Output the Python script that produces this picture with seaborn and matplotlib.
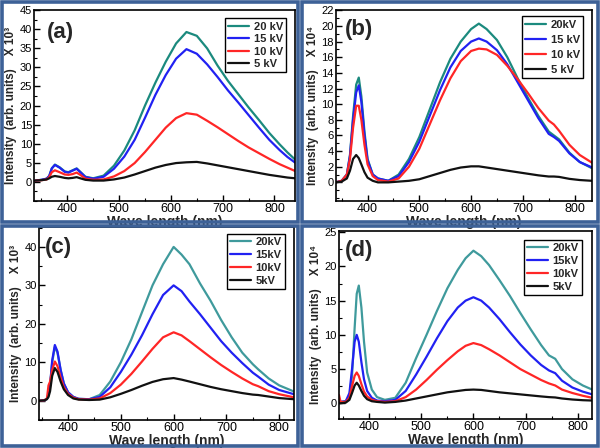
import pandas as pd
import matplotlib.pyplot as plt
import seaborn as sns
from matplotlib.patches import Rectangle
from matplotlib.ticker import MultipleLocator

# ---- data (intensity in units of the axis multiplier) ----
wl_a = [338, 350, 360, 365, 370, 376, 385, 395, 402, 410, 418, 425, 435, 450, 470, 490, 510,
        530, 550, 570, 590, 610, 630, 650, 670, 690, 710, 730, 750, 770, 790, 810, 825, 840]
a_20kv = [0.3, 0.5, 0.8, 1.5, 3.5, 4.5, 3.8, 2.7, 2.5, 3.0, 3.5, 2.6, 1.3, 0.9, 1.6, 4.2, 8.2,
          13.5, 20.0, 26.0, 31.5, 36.3, 39.3, 38.3, 35.0, 30.5, 26.5, 23.0, 19.5, 16.2, 12.8, 9.8, 7.7, 5.8]
a_15kv = [0.3, 0.5, 0.8, 1.5, 3.5, 4.4, 3.7, 2.6, 2.4, 2.9, 3.4, 2.5, 1.2, 0.8, 1.3, 3.4, 6.6,
          11.0, 16.8, 22.8, 28.0, 32.3, 34.8, 33.6, 30.8, 27.5, 24.0, 20.8, 17.5, 14.2, 11.0, 8.3, 6.5, 5.0]
a_10kv = [0.3, 0.4, 0.6, 1.2, 2.5, 3.0, 2.5, 1.9, 1.8, 2.0, 2.4, 1.8, 0.8, 0.5, 0.6, 1.4, 2.8,
          4.9, 7.8, 11.0, 14.2, 16.7, 18.0, 17.6, 16.0, 14.3, 12.5, 10.7, 9.0, 7.5, 6.0, 4.6, 3.7, 2.8]
a_5kv = [0.3, 0.4, 0.6, 0.9, 1.3, 1.5, 1.3, 1.0, 0.9, 1.0, 1.2, 0.9, 0.5, 0.3, 0.3, 0.6, 1.1,
         1.9, 2.8, 3.7, 4.4, 4.9, 5.1, 5.2, 4.8, 4.3, 3.8, 3.3, 2.8, 2.3, 1.8, 1.4, 1.1, 0.9]

wl_b = [338, 350, 360, 366, 372, 378, 383, 388, 394, 400, 410, 420, 440, 460, 480, 500, 520,
        540, 560, 580, 600, 615, 630, 650, 670, 690, 710, 730, 750, 760, 770, 790, 810, 834]
b_20kv = [0.0, 0.2, 1.0, 3.5, 8.5, 12.5, 13.4, 11.0, 6.5, 3.0, 1.0, 0.5, 0.2, 1.0, 3.0, 5.8, 9.3,
          12.8, 15.8, 18.0, 19.6, 20.3, 19.6, 18.2, 16.0, 13.3, 10.8, 8.5, 6.5, 6.0, 5.5, 3.8, 2.6, 1.8]
b_15kv = [0.0, 0.2, 1.0, 3.4, 8.0, 11.5, 12.4, 10.3, 6.0, 2.8, 1.0, 0.5, 0.2, 0.8, 2.6, 5.2, 8.5,
          11.8, 14.7, 16.8, 18.0, 18.4, 18.0, 16.9, 15.1, 12.8, 10.5, 8.2, 6.2, 5.8, 5.3, 3.7, 2.6, 1.9]
b_10kv = [0.0, 0.2, 1.0, 3.0, 7.0, 9.8, 9.8, 8.0, 4.8, 2.3, 0.8, 0.3, 0.1, 0.5, 2.0, 4.3, 7.4,
          10.5, 13.3, 15.5, 16.8, 17.1, 17.0, 16.3, 14.9, 13.2, 11.4, 9.5, 7.9, 7.4, 6.6, 4.8, 3.5, 2.5]
b_5kv = [0.0, 0.1, 0.5, 1.5, 3.0, 3.5, 3.1, 2.3, 1.3, 0.6, 0.2, 0.0, 0.0, 0.1, 0.2, 0.4, 0.8,
         1.2, 1.6, 1.9, 2.05, 2.05, 1.9, 1.7, 1.5, 1.3, 1.1, 0.9, 0.75, 0.75, 0.7, 0.45, 0.3, 0.2]

wl_c = [345, 355, 360, 363, 366, 370, 375, 380, 386, 392, 400, 410, 420, 440, 460, 480, 500,
        520, 540, 560, 580, 600, 615, 630, 650, 670, 690, 710, 730, 750, 760, 780, 800, 828]
c_20kv = [0.0, 0.1, 0.5, 1.5, 4.0, 10.0, 14.0, 12.5, 8.0, 4.5, 2.2, 1.0, 0.5, 0.4, 1.5, 5.0, 10.0,
          16.0, 23.0, 30.0, 35.5, 40.0, 38.0, 35.5, 30.5, 26.0, 21.0, 16.5, 12.5, 9.5, 8.2, 5.8, 4.0, 2.4]
c_15kv = [0.0, 0.1, 0.5, 1.5, 4.0, 10.5, 14.5, 12.8, 8.0, 4.5, 2.2, 1.0, 0.5, 0.4, 1.0, 3.5, 7.5,
          12.0, 17.0, 22.5, 27.5, 30.0, 28.5, 25.8, 22.5, 19.0, 15.5, 12.5, 9.8, 7.3, 6.3, 4.2, 2.8, 1.7]
c_10kv = [0.0, 0.1, 0.6, 4.0, 5.0, 8.0, 10.2, 9.0, 6.0, 3.5, 1.8, 0.8, 0.4, 0.3, 0.6, 2.0, 4.2,
          7.0, 10.2, 13.5, 16.5, 17.8, 17.0, 15.5, 13.4, 11.3, 9.3, 7.5, 5.8, 4.3, 3.8, 2.5, 1.7, 0.9]
c_5kv = [0.0, 0.1, 0.4, 1.0, 2.5, 6.5, 8.5, 7.5, 5.0, 3.0, 1.5, 0.6, 0.3, 0.2, 0.3, 0.9, 1.8,
         2.8, 3.9, 4.9, 5.6, 5.9, 5.5, 5.0, 4.3, 3.6, 3.0, 2.5, 2.0, 1.6, 1.5, 1.1, 0.7, 0.4]

wl_d = [342, 345, 355, 362, 367, 372, 376, 380, 385, 390, 396, 405, 415, 430, 450, 470, 490, 510,
        530, 550, 570, 585, 600, 615, 630, 650, 670, 690, 710, 730, 745, 757, 770, 790, 810, 828]
d_20kv = [0.2, 0.2, 0.3, 1.0, 4.0, 11.0, 16.0, 17.2, 14.0, 9.0, 4.5, 2.0, 0.9, 0.5, 0.8, 3.0, 6.6, 10.0,
          13.5, 16.8, 19.5, 21.2, 22.3, 21.5, 20.2, 18.0, 15.7, 13.2, 10.8, 8.5, 7.0, 6.5, 5.0, 3.5, 2.6, 2.0]
d_15kv = [0.2, 0.2, 0.3, 1.5, 5.0, 9.0, 10.0, 9.0, 6.0, 3.5, 1.8, 0.8, 0.4, 0.3, 0.5, 1.8, 4.2, 6.8,
          9.5, 12.0, 14.0, 15.0, 15.5, 15.0, 14.0, 12.3, 10.4, 8.6, 7.0, 5.6, 4.8, 4.4, 3.3, 2.3, 1.7, 1.3]
d_10kv = [1.2, 0.2, 0.2, 0.8, 2.5, 4.0, 4.5, 4.0, 2.8, 1.7, 1.0, 0.5, 0.3, 0.2, 0.3, 0.9, 2.0, 3.4,
          4.9, 6.3, 7.6, 8.4, 8.8, 8.5, 7.9, 7.0, 6.0, 5.0, 4.2, 3.4, 2.9, 2.6, 2.0, 1.5, 1.1, 0.8]
d_5kv = [0.0, 0.0, 0.1, 0.5, 1.5, 2.6, 3.0, 2.6, 1.8, 1.1, 0.6, 0.3, 0.2, 0.1, 0.2, 0.4, 0.7, 1.0,
         1.3, 1.6, 1.8, 1.95, 2.0, 1.95, 1.8, 1.6, 1.45, 1.3, 1.15, 1.0, 0.9, 0.85, 0.7, 0.55, 0.45, 0.4]

labels_a = ["20 kV", "15 kV", "10 kV", "5 kV"]
labels_b = ["20kV", "15 kV", "10 kV", "5 kV"]
labels_cd = ["20kV", "15kV", "10kV", "5kV"]

sns.set_style("ticks")
plt.rcParams["font.family"] = ["Liberation Sans", "DejaVu Sans"]

fig = plt.figure(figsize=(6, 4.48), dpi=100)

# blue panel frames
frame_col = "#3d6197"
for x0, y0 in [(0, 0.5), (0.5, 0.5), (0, 0), (0.5, 0)]:
    fig.add_artist(Rectangle((x0 + 0.003, y0 + 0.004), 0.494, 0.492, transform=fig.transFigure,
                             fill=False, ec=frame_col, lw=2.6))

panels = [
    dict(pos=[0.057, 0.551, 0.435, 0.426], wl=wl_a, ys=[a_20kv, a_15kv, a_10kv, a_5kv], labels=labels_a,
         teal="#1b8a7e", xlim=(336, 840), ylim=(-5.1, 45), ymaj=5, ymin=2.5, ytop=45,
         tag="(a)", tagpos=(0.05, 0.885), exp="³", legpad=(0.966, 0.958), lspace=0.22),
    dict(pos=[0.560, 0.551, 0.427, 0.426], wl=wl_b, ys=[b_20kv, b_15kv, b_10kv, b_5kv], labels=labels_b,
         teal="#1b8a7e", xlim=(339, 834), ylim=(-2.4, 22), ymaj=2, ymin=1, ytop=22,
         tag="(b)", tagpos=(0.035, 0.9), exp="⁴", legpad=(0.965, 0.969), lspace=0.45),
    dict(pos=[0.065, 0.0625, 0.425, 0.431], wl=wl_c, ys=[c_20kv, c_15kv, c_10kv, c_5kv], labels=labels_cd,
         teal="#3f9a9c", xlim=(345, 828), ylim=(-5, 45.2), ymaj=10, ymin=5, ytop=40,
         tag="(c)", tagpos=(0.024, 0.894), exp="³", legpad=(0.965, 0.964), lspace=0.25),
    dict(pos=[0.565, 0.0647, 0.422, 0.42], wl=wl_d, ys=[d_20kv, d_15kv, d_10kv, d_5kv], labels=labels_cd,
         teal="#3f9a9c", xlim=(342, 828), ylim=(-2.3, 25.2), ymaj=5, ymin=2.5, ytop=25,
         tag="(d)", tagpos=(0.024, 0.894), exp="⁴", legpad=(0.96, 0.952), lspace=0.25),
]

for p in panels:
    ax = fig.add_axes(p["pos"])
    rows = []
    for lab, vals in zip(p["labels"], p["ys"]):
        for w, v in zip(p["wl"], vals):
            rows.append({"wl": w, "val": v, "series": lab})
    df = pd.DataFrame(rows)
    pal = dict(zip(p["labels"], [p["teal"], "#2121f2", "#ff2626", "#111111"]))
    sns.lineplot(data=df, x="wl", y="val", hue="series", hue_order=p["labels"], palette=pal,
                 sort=False, estimator=None, linewidth=1.6, ax=ax)

    ax.set_xlim(*p["xlim"])
    ax.set_ylim(*p["ylim"])
    ax.xaxis.set_major_locator(MultipleLocator(100))
    ax.xaxis.set_minor_locator(MultipleLocator(50))
    yt = list(range(0, p["ytop"] + 1, p["ymaj"]))
    ax.set_yticks(yt)
    ax.yaxis.set_minor_locator(MultipleLocator(p["ymin"]))
    ax.tick_params(which="both", direction="in", top=False, right=False, colors="black")
    ax.tick_params(which="major", length=4, width=1, pad=1.5)
    ax.tick_params(axis="x", labelsize=9)
    ax.tick_params(axis="y", labelsize=8)
    ax.tick_params(which="minor", length=2, width=0.8)
    for s in ax.spines.values():
        s.set_linewidth(1.2)
        s.set_color("black")

    ax.set_xlabel("Wave length (nm)", fontsize=10, fontweight="bold", labelpad=0)
    ax.set_ylabel("Intensity  (arb. units)    X 10" + p["exp"], fontsize=8.5, fontweight="bold", labelpad=2)
    ax.text(p["tagpos"][0], p["tagpos"][1], p["tag"], transform=ax.transAxes, fontsize=16,
            fontweight="bold", va="center", ha="left")

    handles, labs = ax.get_legend_handles_labels()
    leg = ax.legend(handles, labs, loc="upper right", bbox_to_anchor=p["legpad"], borderaxespad=0,
                    fancybox=False, edgecolor="black", framealpha=1, prop={"size": 8, "weight": "bold"},
                    handlelength=1.9, handletextpad=0.4, borderpad=0.3, labelspacing=p["lspace"])
    leg.get_frame().set_linewidth(1.0)

fig.savefig("out.png", dpi=100)
